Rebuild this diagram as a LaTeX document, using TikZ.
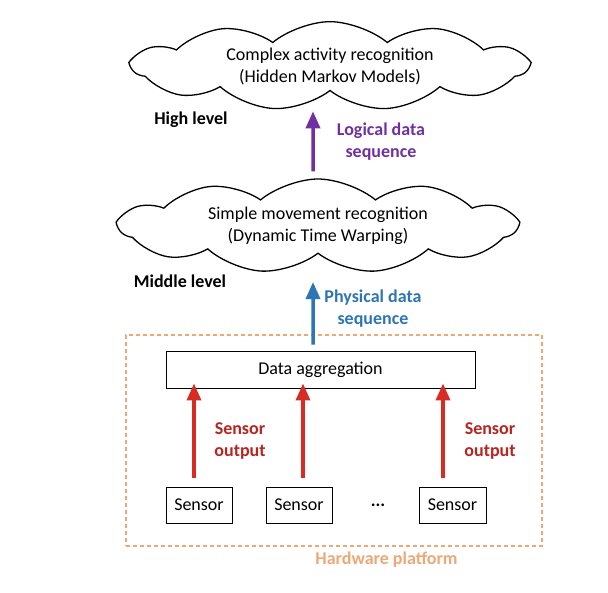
\documentclass[tikz,border=0pt]{standalone}
\usepackage{fontspec}
\setmainfont{Carlito}
\usetikzlibrary{shapes.symbols,arrows.meta}
\definecolor{logpurple}{RGB}{112,48,160}
\definecolor{physblue}{RGB}{46,117,182}
\definecolor{sensred}{RGB}{214,44,36}
\definecolor{hwtan}{RGB}{236,168,118}
\begin{document}
\begin{tikzpicture}[x=1pt,y=-1pt,font=\fontsize{18}{22}\selectfont,
  level/.style={cloud,draw,cloud puffs=11,cloud puff arc=80,aspect=4.8,inner sep=0pt,
    line width=1.3pt,align=center},
  tag/.style={font=\fontsize{18}{22}\selectfont\bfseries,align=center},
  box/.style={draw,line width=0.9pt},
  up/.style={line width=3.5pt,-{Triangle[length=17pt,width=14pt]}}]
 \useasboundingbox (0,0) rectangle (608,592);
 \node[level,minimum width=395,minimum height=83] (complex) at (330,66)
    {Complex activity recognition\\(Hidden Markov Models)};
 \node[tag] (high) at (191,120) {High level};
 \node[tag,text=logpurple] (logical) at (381,142) {Logical data\\sequence};
 \node[level,minimum width=397,minimum height=78] (simple) at (318,226)
    {Simple movement recognition\\(Dynamic Time Warping)};
 \node[tag] (middle) at (180,281) {Middle level};
 \node[tag,text=physblue] (physical) at (373,309) {Physical data\\sequence};
 \node[draw=hwtan,line width=1.6pt,dash pattern=on 4pt off 3pt,
    minimum width=416,minimum height=211] (platform) at (334,440.5) {};
 \node[tag,text=hwtan] (hardware) at (386.5,560) {Hardware platform};
 \node[box,minimum width=309,minimum height=37] (aggr) at (320.5,369.5) {Data aggregation};
 \node[box,minimum width=66,minimum height=36] (s1) at (199,505) {Sensor};
 \node[box,minimum width=66,minimum height=36] (s2) at (299,505) {Sensor};
 \node[tag] (dots) at (378,505) {...};
 \node[box,minimum width=67,minimum height=36] (s3) at (452.5,505) {Sensor};
 \node[tag,text=sensred!85!black] (out1) at (240,441) {Sensor\\output};
 \node[tag,text=sensred!85!black] (out3) at (490,441) {Sensor\\output};
 % arrows between the levels
 \draw[up,logpurple] ([xshift=-5pt,yshift=7pt]simple.north) -- ([xshift=-17pt,yshift=-20pt]complex.south);
 \draw[up,physblue] ([xshift=-7.5pt,yshift=6pt]aggr.north) -- ([xshift=-5pt,yshift=-28pt]simple.south);
 \draw[up,sensred,shorten >=4pt] ([xshift=-5pt,yshift=9pt]s1.north) -- ([xshift=-5pt,yshift=9pt]s1.north |- aggr.south);
 \draw[up,sensred,shorten >=4pt] ([xshift=4pt,yshift=9pt]s2.north) -- ([xshift=4pt,yshift=9pt]s2.north |- aggr.south);
 \draw[up,sensred,shorten >=4pt] ([xshift=-9.5pt,yshift=9pt]s3.north) -- ([xshift=-9.5pt,yshift=9pt]s3.north |- aggr.south);
\end{tikzpicture}
\end{document}
